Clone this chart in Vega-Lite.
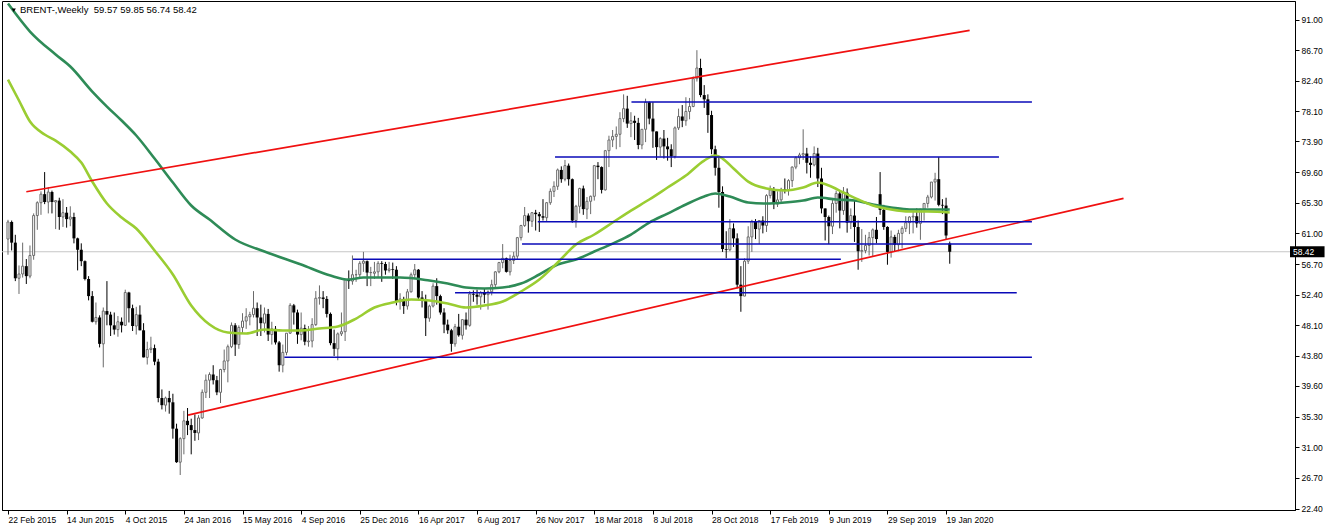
{
"$schema":"https://vega.github.io/schema/vega-lite/v6.json",
"width":1293,"height":509,
"autosize":{"type":"none"},
"padding":{"left":2,"top":1,"right":37,"bottom":20},
"background":"white",
"config":{"view":{"stroke":"#000","strokeWidth":1},"font":"Liberation Sans","axis":{"grid":false}},
"datasets":{
"candles":[
{"d":"2015-02-22","o":60.2,"h":62.9,"l":58.0,"c":62.6},
{"d":"2015-03-01","o":62.6,"h":62.8,"l":58.6,"c":59.7},
{"d":"2015-03-08","o":59.7,"h":60.8,"l":54.3,"c":54.7},
{"d":"2015-03-15","o":54.7,"h":56.5,"l":52.5,"c":55.3},
{"d":"2015-03-22","o":55.3,"h":59.7,"l":54.8,"c":56.4},
{"d":"2015-03-29","o":56.4,"h":57.4,"l":53.9,"c":55.0},
{"d":"2015-04-05","o":55.0,"h":59.3,"l":54.7,"c":57.9},
{"d":"2015-04-12","o":57.9,"h":63.8,"l":57.3,"c":63.5},
{"d":"2015-04-19","o":63.5,"h":65.5,"l":61.5,"c":65.3},
{"d":"2015-04-26","o":65.3,"h":66.9,"l":63.6,"c":66.5},
{"d":"2015-05-03","o":66.5,"h":69.6,"l":65.1,"c":65.4},
{"d":"2015-05-10","o":65.4,"h":67.5,"l":63.8,"c":66.8},
{"d":"2015-05-17","o":66.8,"h":67.0,"l":63.8,"c":65.4},
{"d":"2015-05-24","o":65.4,"h":65.6,"l":61.6,"c":65.6},
{"d":"2015-05-31","o":65.6,"h":66.0,"l":61.5,"c":63.3},
{"d":"2015-06-07","o":63.3,"h":65.8,"l":61.9,"c":63.9},
{"d":"2015-06-14","o":63.9,"h":64.7,"l":61.8,"c":63.0},
{"d":"2015-06-21","o":63.0,"h":64.8,"l":62.0,"c":63.3},
{"d":"2015-06-28","o":63.3,"h":63.9,"l":59.6,"c":60.3},
{"d":"2015-07-05","o":60.3,"h":60.4,"l":55.8,"c":58.7},
{"d":"2015-07-12","o":58.7,"h":59.6,"l":56.4,"c":57.1},
{"d":"2015-07-19","o":57.1,"h":57.2,"l":54.4,"c":54.6},
{"d":"2015-07-26","o":54.6,"h":55.0,"l":51.6,"c":52.2},
{"d":"2015-08-02","o":52.2,"h":52.9,"l":48.5,"c":48.6},
{"d":"2015-08-09","o":48.6,"h":51.3,"l":48.2,"c":49.2},
{"d":"2015-08-16","o":49.2,"h":49.5,"l":45.0,"c":45.5},
{"d":"2015-08-23","o":45.5,"h":50.6,"l":42.2,"c":50.1},
{"d":"2015-08-30","o":50.1,"h":54.3,"l":48.1,"c":49.6},
{"d":"2015-09-06","o":49.6,"h":50.0,"l":46.6,"c":48.1},
{"d":"2015-09-13","o":48.1,"h":49.9,"l":46.8,"c":47.5},
{"d":"2015-09-20","o":47.5,"h":49.4,"l":46.5,"c":48.6},
{"d":"2015-09-27","o":48.6,"h":49.2,"l":47.1,"c":48.1},
{"d":"2015-10-04","o":48.1,"h":53.1,"l":48.0,"c":52.7},
{"d":"2015-10-11","o":52.7,"h":52.8,"l":48.5,"c":50.5},
{"d":"2015-10-18","o":50.5,"h":51.0,"l":47.3,"c":48.0},
{"d":"2015-10-25","o":48.0,"h":50.7,"l":46.8,"c":49.6},
{"d":"2015-11-01","o":49.6,"h":50.9,"l":47.4,"c":47.4},
{"d":"2015-11-08","o":47.4,"h":48.4,"l":43.6,"c":43.6},
{"d":"2015-11-15","o":43.6,"h":45.8,"l":42.6,"c":44.7},
{"d":"2015-11-22","o":44.7,"h":46.5,"l":44.2,"c":44.9},
{"d":"2015-11-29","o":44.9,"h":45.4,"l":42.5,"c":43.0},
{"d":"2015-12-06","o":43.0,"h":43.4,"l":37.3,"c":37.9},
{"d":"2015-12-13","o":37.9,"h":39.1,"l":36.3,"c":36.9},
{"d":"2015-12-20","o":36.9,"h":38.1,"l":36.0,"c":37.9},
{"d":"2015-12-27","o":37.9,"h":38.9,"l":35.7,"c":37.3},
{"d":"2016-01-03","o":37.3,"h":38.5,"l":32.2,"c":33.6},
{"d":"2016-01-10","o":33.6,"h":34.3,"l":28.8,"c":28.9},
{"d":"2016-01-17","o":28.9,"h":32.4,"l":27.1,"c":32.2},
{"d":"2016-01-24","o":32.2,"h":36.1,"l":30.0,"c":34.7},
{"d":"2016-01-31","o":34.7,"h":36.5,"l":32.7,"c":34.1},
{"d":"2016-02-07","o":34.1,"h":35.0,"l":30.0,"c":33.4},
{"d":"2016-02-14","o":33.4,"h":35.6,"l":31.9,"c":33.0},
{"d":"2016-02-21","o":33.0,"h":35.5,"l":32.0,"c":35.1},
{"d":"2016-02-28","o":35.1,"h":39.1,"l":35.0,"c":38.7},
{"d":"2016-03-06","o":38.7,"h":41.2,"l":37.9,"c":40.4},
{"d":"2016-03-13","o":40.4,"h":41.5,"l":37.9,"c":41.2},
{"d":"2016-03-20","o":41.2,"h":42.5,"l":39.8,"c":40.4},
{"d":"2016-03-27","o":40.4,"h":41.0,"l":38.3,"c":38.7},
{"d":"2016-04-03","o":38.7,"h":42.0,"l":37.2,"c":41.9},
{"d":"2016-04-10","o":41.9,"h":44.7,"l":41.5,"c":43.1},
{"d":"2016-04-17","o":43.1,"h":45.4,"l":40.1,"c":45.1},
{"d":"2016-04-24","o":45.1,"h":48.5,"l":44.9,"c":48.1},
{"d":"2016-05-01","o":48.1,"h":48.4,"l":43.8,"c":45.4},
{"d":"2016-05-08","o":45.4,"h":48.1,"l":44.8,"c":47.8},
{"d":"2016-05-15","o":47.8,"h":49.8,"l":47.0,"c":48.7},
{"d":"2016-05-22","o":48.7,"h":50.5,"l":47.6,"c":49.3},
{"d":"2016-05-29","o":49.3,"h":50.0,"l":48.1,"c":49.6},
{"d":"2016-06-05","o":49.6,"h":52.9,"l":49.2,"c":50.5},
{"d":"2016-06-12","o":50.5,"h":51.3,"l":46.6,"c":49.2},
{"d":"2016-06-19","o":49.2,"h":51.0,"l":46.6,"c":48.4},
{"d":"2016-06-26","o":48.4,"h":50.6,"l":47.1,"c":49.7},
{"d":"2016-07-03","o":49.7,"h":50.4,"l":45.9,"c":46.8},
{"d":"2016-07-10","o":46.8,"h":48.6,"l":45.4,"c":47.6},
{"d":"2016-07-17","o":47.6,"h":48.0,"l":45.4,"c":45.7},
{"d":"2016-07-24","o":45.7,"h":45.9,"l":41.6,"c":42.5},
{"d":"2016-07-31","o":42.5,"h":45.4,"l":41.5,"c":44.3},
{"d":"2016-08-07","o":44.3,"h":47.0,"l":43.9,"c":47.0},
{"d":"2016-08-14","o":47.0,"h":51.2,"l":46.9,"c":50.9},
{"d":"2016-08-21","o":50.9,"h":51.1,"l":48.2,"c":49.9},
{"d":"2016-08-28","o":49.9,"h":50.3,"l":45.5,"c":46.8},
{"d":"2016-09-04","o":46.8,"h":49.9,"l":46.0,"c":47.7},
{"d":"2016-09-11","o":47.7,"h":48.2,"l":45.3,"c":45.8},
{"d":"2016-09-18","o":45.8,"h":48.0,"l":45.1,"c":45.9},
{"d":"2016-09-25","o":45.9,"h":49.1,"l":45.0,"c":48.2},
{"d":"2016-10-02","o":48.2,"h":52.9,"l":48.0,"c":51.9},
{"d":"2016-10-09","o":51.9,"h":53.7,"l":51.0,"c":52.0},
{"d":"2016-10-16","o":52.0,"h":52.9,"l":50.5,"c":51.8},
{"d":"2016-10-23","o":51.8,"h":52.2,"l":49.2,"c":49.7},
{"d":"2016-10-30","o":49.7,"h":49.9,"l":45.3,"c":45.6},
{"d":"2016-11-06","o":45.6,"h":47.5,"l":43.8,"c":44.8},
{"d":"2016-11-13","o":44.8,"h":47.1,"l":43.2,"c":46.9},
{"d":"2016-11-20","o":46.9,"h":49.9,"l":46.6,"c":47.2},
{"d":"2016-11-27","o":47.2,"h":54.5,"l":45.9,"c":54.5},
{"d":"2016-12-04","o":54.5,"h":55.8,"l":53.2,"c":54.3},
{"d":"2016-12-11","o":54.3,"h":57.9,"l":53.8,"c":55.2},
{"d":"2016-12-18","o":55.2,"h":55.9,"l":54.2,"c":55.2},
{"d":"2016-12-25","o":55.2,"h":57.1,"l":54.6,"c":56.8},
{"d":"2017-01-01","o":56.8,"h":58.4,"l":55.6,"c":57.1},
{"d":"2017-01-08","o":57.1,"h":57.2,"l":53.6,"c":55.5},
{"d":"2017-01-15","o":55.5,"h":56.3,"l":53.6,"c":55.5},
{"d":"2017-01-22","o":55.4,"h":57.0,"l":54.6,"c":55.6},
{"d":"2017-01-29","o":55.6,"h":57.1,"l":54.8,"c":56.8},
{"d":"2017-02-05","o":56.8,"h":57.1,"l":54.2,"c":56.7},
{"d":"2017-02-12","o":56.7,"h":57.0,"l":55.2,"c":55.8},
{"d":"2017-02-19","o":55.8,"h":57.0,"l":55.5,"c":56.0},
{"d":"2017-02-26","o":56.0,"h":56.9,"l":54.6,"c":55.9},
{"d":"2017-03-05","o":55.9,"h":56.4,"l":50.9,"c":51.4},
{"d":"2017-03-12","o":51.4,"h":52.6,"l":50.3,"c":51.8},
{"d":"2017-03-19","o":51.8,"h":52.1,"l":49.7,"c":50.8},
{"d":"2017-03-26","o":50.8,"h":53.2,"l":50.3,"c":52.8},
{"d":"2017-04-02","o":52.8,"h":55.5,"l":52.7,"c":55.2},
{"d":"2017-04-09","o":55.2,"h":56.7,"l":54.7,"c":55.9},
{"d":"2017-04-16","o":55.9,"h":56.0,"l":51.6,"c":52.0},
{"d":"2017-04-23","o":52.0,"h":52.9,"l":50.6,"c":51.7},
{"d":"2017-04-30","o":51.7,"h":52.4,"l":46.6,"c":49.1},
{"d":"2017-05-07","o":49.1,"h":51.0,"l":48.6,"c":50.8},
{"d":"2017-05-14","o":50.8,"h":54.0,"l":50.6,"c":53.6},
{"d":"2017-05-21","o":53.6,"h":54.7,"l":51.0,"c":52.2},
{"d":"2017-05-28","o":52.2,"h":52.4,"l":49.6,"c":49.9},
{"d":"2017-06-04","o":49.9,"h":50.5,"l":47.0,"c":48.2},
{"d":"2017-06-11","o":48.2,"h":48.9,"l":46.9,"c":47.4},
{"d":"2017-06-18","o":47.4,"h":47.6,"l":44.4,"c":45.5},
{"d":"2017-06-25","o":45.5,"h":48.3,"l":45.1,"c":47.9},
{"d":"2017-07-02","o":47.9,"h":49.7,"l":46.5,"c":46.7},
{"d":"2017-07-09","o":46.7,"h":48.9,"l":46.1,"c":48.9},
{"d":"2017-07-16","o":48.9,"h":49.9,"l":47.5,"c":48.1},
{"d":"2017-07-23","o":48.1,"h":52.9,"l":47.9,"c":52.5},
{"d":"2017-07-30","o":52.5,"h":53.0,"l":51.4,"c":52.4},
{"d":"2017-08-06","o":52.4,"h":53.1,"l":51.0,"c":52.1},
{"d":"2017-08-13","o":52.1,"h":52.9,"l":50.3,"c":52.7},
{"d":"2017-08-20","o":52.7,"h":53.2,"l":51.2,"c":52.4},
{"d":"2017-08-27","o":52.4,"h":53.0,"l":50.3,"c":52.8},
{"d":"2017-09-03","o":52.8,"h":54.5,"l":52.3,"c":53.8},
{"d":"2017-09-10","o":53.8,"h":55.7,"l":53.2,"c":55.6},
{"d":"2017-09-17","o":55.6,"h":57.0,"l":55.4,"c":56.9},
{"d":"2017-09-24","o":56.9,"h":59.5,"l":56.1,"c":57.5},
{"d":"2017-10-01","o":57.5,"h":57.6,"l":55.5,"c":55.6},
{"d":"2017-10-08","o":55.6,"h":58.0,"l":55.1,"c":57.2},
{"d":"2017-10-15","o":57.2,"h":58.4,"l":56.7,"c":57.8},
{"d":"2017-10-22","o":57.8,"h":60.5,"l":57.3,"c":60.4},
{"d":"2017-10-29","o":60.4,"h":62.2,"l":60.0,"c":62.1},
{"d":"2017-11-05","o":62.1,"h":64.7,"l":61.9,"c":63.5},
{"d":"2017-11-12","o":63.5,"h":63.8,"l":61.1,"c":62.7},
{"d":"2017-11-19","o":62.7,"h":64.0,"l":61.9,"c":63.9},
{"d":"2017-11-26","o":63.9,"h":64.3,"l":61.4,"c":63.7},
{"d":"2017-12-03","o":63.7,"h":64.0,"l":61.2,"c":63.4},
{"d":"2017-12-10","o":63.4,"h":65.8,"l":62.8,"c":63.2},
{"d":"2017-12-17","o":63.2,"h":65.4,"l":62.6,"c":65.3},
{"d":"2017-12-24","o":65.3,"h":67.3,"l":65.0,"c":66.9},
{"d":"2017-12-31","o":66.9,"h":68.3,"l":66.1,"c":67.6},
{"d":"2018-01-07","o":67.6,"h":70.1,"l":67.1,"c":69.9},
{"d":"2018-01-14","o":69.9,"h":70.4,"l":68.1,"c":68.6},
{"d":"2018-01-21","o":68.6,"h":71.3,"l":68.3,"c":70.5},
{"d":"2018-01-28","o":70.5,"h":70.8,"l":67.7,"c":68.6},
{"d":"2018-02-04","o":68.6,"h":68.7,"l":62.5,"c":62.8},
{"d":"2018-02-11","o":62.8,"h":65.0,"l":61.8,"c":64.8},
{"d":"2018-02-18","o":64.8,"h":67.4,"l":63.8,"c":67.3},
{"d":"2018-02-25","o":67.3,"h":67.7,"l":63.6,"c":64.4},
{"d":"2018-03-04","o":64.4,"h":66.1,"l":63.0,"c":65.5},
{"d":"2018-03-11","o":65.5,"h":66.3,"l":63.7,"c":66.2},
{"d":"2018-03-18","o":66.2,"h":70.6,"l":65.6,"c":70.5},
{"d":"2018-03-25","o":70.5,"h":71.0,"l":68.6,"c":70.3},
{"d":"2018-04-01","o":70.3,"h":70.4,"l":66.6,"c":67.1},
{"d":"2018-04-08","o":67.1,"h":72.7,"l":67.0,"c":72.6},
{"d":"2018-04-15","o":72.6,"h":74.7,"l":70.3,"c":74.1},
{"d":"2018-04-22","o":74.1,"h":75.5,"l":73.1,"c":74.6},
{"d":"2018-04-29","o":74.6,"h":76.0,"l":72.8,"c":74.9},
{"d":"2018-05-06","o":74.9,"h":78.0,"l":73.1,"c":77.1},
{"d":"2018-05-13","o":77.1,"h":80.5,"l":76.6,"c":78.5},
{"d":"2018-05-20","o":78.5,"h":80.3,"l":75.8,"c":76.4},
{"d":"2018-05-27","o":76.4,"h":78.0,"l":74.5,"c":76.8},
{"d":"2018-06-03","o":76.8,"h":77.5,"l":74.1,"c":76.5},
{"d":"2018-06-10","o":76.5,"h":77.2,"l":72.8,"c":73.4},
{"d":"2018-06-17","o":73.4,"h":75.6,"l":72.8,"c":75.6},
{"d":"2018-06-24","o":75.6,"h":79.9,"l":73.8,"c":79.4},
{"d":"2018-07-01","o":79.4,"h":79.5,"l":76.3,"c":77.1},
{"d":"2018-07-08","o":77.1,"h":79.4,"l":73.0,"c":75.3},
{"d":"2018-07-15","o":75.3,"h":75.3,"l":71.3,"c":73.1},
{"d":"2018-07-22","o":73.1,"h":74.5,"l":71.8,"c":74.3},
{"d":"2018-07-29","o":74.3,"h":75.5,"l":71.5,"c":73.2},
{"d":"2018-08-05","o":73.2,"h":74.4,"l":71.2,"c":72.8},
{"d":"2018-08-12","o":72.8,"h":73.5,"l":70.3,"c":71.8},
{"d":"2018-08-19","o":71.8,"h":76.0,"l":71.5,"c":75.8},
{"d":"2018-08-26","o":75.8,"h":78.5,"l":75.5,"c":77.4},
{"d":"2018-09-02","o":77.4,"h":79.0,"l":75.9,"c":76.8},
{"d":"2018-09-09","o":76.8,"h":80.1,"l":76.1,"c":78.1},
{"d":"2018-09-16","o":78.1,"h":80.0,"l":77.0,"c":78.8},
{"d":"2018-09-23","o":78.8,"h":83.0,"l":78.7,"c":82.7},
{"d":"2018-09-30","o":82.7,"h":86.7,"l":82.3,"c":84.2},
{"d":"2018-10-07","o":84.2,"h":85.5,"l":80.1,"c":80.4},
{"d":"2018-10-14","o":80.4,"h":81.8,"l":78.6,"c":79.8},
{"d":"2018-10-21","o":79.8,"h":80.5,"l":75.1,"c":77.6},
{"d":"2018-10-28","o":77.6,"h":78.2,"l":72.1,"c":72.8},
{"d":"2018-11-04","o":72.8,"h":73.3,"l":69.1,"c":70.2},
{"d":"2018-11-11","o":70.2,"h":71.7,"l":64.6,"c":66.8},
{"d":"2018-11-18","o":66.8,"h":67.6,"l":58.4,"c":58.8},
{"d":"2018-11-25","o":58.8,"h":61.3,"l":57.5,"c":58.7},
{"d":"2018-12-02","o":58.7,"h":63.0,"l":58.5,"c":61.7},
{"d":"2018-12-09","o":61.7,"h":62.4,"l":59.1,"c":60.3},
{"d":"2018-12-16","o":60.3,"h":61.0,"l":53.3,"c":53.8},
{"d":"2018-12-23","o":53.8,"h":56.4,"l":50.0,"c":52.2},
{"d":"2018-12-30","o":52.2,"h":57.5,"l":52.2,"c":57.1},
{"d":"2019-01-06","o":57.1,"h":62.0,"l":56.7,"c":60.5},
{"d":"2019-01-13","o":60.5,"h":62.9,"l":58.4,"c":62.7},
{"d":"2019-01-20","o":62.7,"h":63.0,"l":60.2,"c":61.6},
{"d":"2019-01-27","o":61.6,"h":62.8,"l":59.5,"c":62.8},
{"d":"2019-02-03","o":62.8,"h":63.4,"l":61.0,"c":62.1},
{"d":"2019-02-10","o":62.1,"h":66.5,"l":61.2,"c":66.3},
{"d":"2019-02-17","o":66.3,"h":67.7,"l":65.9,"c":67.1},
{"d":"2019-02-24","o":67.1,"h":67.5,"l":64.4,"c":65.1},
{"d":"2019-03-03","o":65.1,"h":66.9,"l":64.7,"c":65.7},
{"d":"2019-03-10","o":65.7,"h":67.4,"l":65.2,"c":67.2},
{"d":"2019-03-17","o":67.2,"h":68.7,"l":66.6,"c":67.0},
{"d":"2019-03-24","o":67.0,"h":68.6,"l":66.3,"c":68.4},
{"d":"2019-03-31","o":68.4,"h":70.4,"l":67.5,"c":70.3},
{"d":"2019-04-07","o":70.3,"h":71.8,"l":70.0,"c":71.6},
{"d":"2019-04-14","o":71.6,"h":72.3,"l":70.7,"c":72.0},
{"d":"2019-04-21","o":72.0,"h":75.6,"l":71.3,"c":72.2},
{"d":"2019-04-28","o":72.2,"h":73.0,"l":69.4,"c":70.9},
{"d":"2019-05-05","o":70.9,"h":71.8,"l":68.8,"c":70.6},
{"d":"2019-05-12","o":70.6,"h":73.2,"l":70.4,"c":72.2},
{"d":"2019-05-19","o":72.2,"h":73.0,"l":67.5,"c":68.7},
{"d":"2019-05-26","o":68.7,"h":70.2,"l":63.8,"c":64.5},
{"d":"2019-06-02","o":64.5,"h":64.5,"l":60.0,"c":63.3},
{"d":"2019-06-09","o":63.3,"h":63.5,"l":59.5,"c":62.0},
{"d":"2019-06-16","o":62.0,"h":65.8,"l":60.9,"c":65.2},
{"d":"2019-06-23","o":65.2,"h":67.0,"l":63.9,"c":66.6},
{"d":"2019-06-30","o":66.6,"h":67.0,"l":61.7,"c":64.2},
{"d":"2019-07-07","o":64.2,"h":67.5,"l":63.6,"c":66.7},
{"d":"2019-07-14","o":66.7,"h":67.3,"l":61.1,"c":62.5},
{"d":"2019-07-21","o":62.5,"h":64.5,"l":61.6,"c":63.5},
{"d":"2019-07-28","o":63.5,"h":65.6,"l":59.8,"c":61.9},
{"d":"2019-08-04","o":61.9,"h":62.8,"l":55.9,"c":58.5},
{"d":"2019-08-11","o":58.5,"h":61.6,"l":57.0,"c":58.6},
{"d":"2019-08-18","o":58.6,"h":60.8,"l":58.2,"c":59.3},
{"d":"2019-08-25","o":59.3,"h":61.2,"l":57.9,"c":60.4},
{"d":"2019-09-01","o":60.4,"h":61.7,"l":57.7,"c":61.5},
{"d":"2019-09-08","o":61.5,"h":63.3,"l":59.6,"c":60.2},
{"d":"2019-09-15","o":66.5,"h":69.6,"l":63.6,"c":64.3},
{"d":"2019-09-22","o":64.3,"h":65.0,"l":61.5,"c":61.9},
{"d":"2019-09-29","o":61.9,"h":62.0,"l":56.6,"c":58.4},
{"d":"2019-10-06","o":58.4,"h":61.4,"l":57.6,"c":60.5},
{"d":"2019-10-13","o":60.5,"h":60.8,"l":58.4,"c":59.4},
{"d":"2019-10-20","o":59.4,"h":61.5,"l":58.5,"c":61.0},
{"d":"2019-10-27","o":61.0,"h":62.0,"l":58.9,"c":61.7},
{"d":"2019-11-03","o":61.7,"h":63.4,"l":61.2,"c":62.5},
{"d":"2019-11-10","o":62.5,"h":63.4,"l":60.9,"c":63.3},
{"d":"2019-11-17","o":63.3,"h":64.1,"l":61.0,"c":63.4},
{"d":"2019-11-24","o":63.4,"h":64.5,"l":61.8,"c":62.4},
{"d":"2019-12-01","o":62.4,"h":64.4,"l":60.1,"c":64.4},
{"d":"2019-12-08","o":64.4,"h":65.1,"l":62.8,"c":65.2},
{"d":"2019-12-15","o":65.2,"h":66.4,"l":64.6,"c":66.1},
{"d":"2019-12-22","o":66.1,"h":68.2,"l":65.9,"c":68.2},
{"d":"2019-12-29","o":68.2,"h":69.5,"l":65.6,"c":68.6},
{"d":"2020-01-05","o":68.6,"h":71.7,"l":64.8,"c":65.0},
{"d":"2020-01-12","o":65.0,"h":65.8,"l":63.7,"c":64.9},
{"d":"2020-01-19","o":64.9,"h":66.0,"l":60.2,"c":60.7},
{"d":"2020-01-26","o":59.57,"h":59.85,"l":56.74,"c":58.42}
],
"slow":[
{"d":"2015-02-22","v":93.24},{"d":"2015-04-05","v":89.32},{"d":"2015-05-24","v":86.09},{"d":"2015-06-21","v":84.41},{"d":"2015-08-02","v":80.9},{"d":"2015-08-30","v":78.79},{"d":"2015-09-27","v":76.83},{"d":"2015-10-25","v":74.73},{"d":"2015-11-29","v":71.5},{"d":"2016-01-03","v":68.13},{"d":"2016-02-07","v":64.91},{"d":"2016-03-13","v":62.94},{"d":"2016-05-01","v":60.14},{"d":"2016-06-26","v":58.45},{"d":"2016-09-04","v":56.63},{"d":"2016-10-30","v":55.08},{"d":"2016-12-04","v":54.52},{"d":"2017-01-01","v":54.8},{"d":"2017-03-12","v":54.8},{"d":"2017-05-07","v":54.38},{"d":"2017-06-11","v":53.96},{"d":"2017-07-16","v":53.4},{"d":"2017-08-20","v":53.26},{"d":"2017-09-24","v":53.4},{"d":"2017-10-29","v":53.96},{"d":"2017-12-03","v":55.23},{"d":"2018-01-07","v":56.63},{"d":"2018-02-11","v":57.33},{"d":"2018-03-18","v":58.45},{"d":"2018-04-22","v":59.57},{"d":"2018-05-27","v":60.84},{"d":"2018-07-01","v":62.52},{"d":"2018-08-05","v":63.78},{"d":"2018-09-09","v":65.05},{"d":"2018-10-14","v":66.17},{"d":"2018-11-04","v":66.59},{"d":"2018-12-02","v":66.17},{"d":"2019-01-06","v":65.33},{"d":"2019-02-10","v":65.19},{"d":"2019-03-17","v":65.33},{"d":"2019-04-21","v":65.61},{"d":"2019-05-19","v":66.03},{"d":"2019-06-23","v":65.75},{"d":"2019-07-28","v":65.61},{"d":"2019-09-01","v":65.05},{"d":"2019-10-06","v":64.63},{"d":"2019-11-10","v":64.34},{"d":"2019-12-15","v":64.34},{"d":"2020-01-26","v":64.34}
],
"fast":[
{"d":"2015-02-22","v":82.58},{"d":"2015-03-15","v":79.64},{"d":"2015-04-05","v":76.69},{"d":"2015-05-03","v":74.87},{"d":"2015-05-24","v":74.02},{"d":"2015-06-21","v":72.48},{"d":"2015-07-12","v":70.94},{"d":"2015-08-02","v":68.27},{"d":"2015-08-30","v":65.19},{"d":"2015-09-27","v":63.22},{"d":"2015-10-25","v":61.68},{"d":"2015-11-29","v":58.59},{"d":"2016-01-03","v":55.23},{"d":"2016-02-07","v":50.88},{"d":"2016-03-13","v":48.21},{"d":"2016-04-17","v":47.09},{"d":"2016-05-22","v":46.95},{"d":"2016-06-26","v":47.51},{"d":"2016-07-31","v":47.37},{"d":"2016-09-04","v":47.37},{"d":"2016-10-09","v":47.65},{"d":"2016-11-13","v":47.93},{"d":"2016-12-18","v":49.05},{"d":"2017-01-22","v":50.6},{"d":"2017-02-26","v":51.3},{"d":"2017-04-02","v":51.72},{"d":"2017-05-07","v":51.58},{"d":"2017-06-11","v":51.16},{"d":"2017-07-16","v":50.6},{"d":"2017-08-20","v":50.88},{"d":"2017-09-24","v":51.44},{"d":"2017-10-29","v":52.84},{"d":"2017-12-03","v":54.52},{"d":"2018-01-07","v":56.91},{"d":"2018-02-11","v":59.43},{"d":"2018-03-18","v":60.84},{"d":"2018-04-22","v":62.52},{"d":"2018-05-27","v":64.2},{"d":"2018-07-01","v":65.75},{"d":"2018-08-05","v":67.43},{"d":"2018-09-09","v":69.11},{"d":"2018-10-14","v":71.22},{"d":"2018-11-04","v":71.92},{"d":"2018-11-18","v":71.5},{"d":"2018-12-09","v":70.1},{"d":"2019-01-06","v":68.27},{"d":"2019-02-10","v":67.29},{"d":"2019-03-17","v":67.01},{"d":"2019-04-21","v":67.43},{"d":"2019-05-19","v":68.13},{"d":"2019-06-09","v":67.71},{"d":"2019-07-07","v":66.73},{"d":"2019-08-04","v":65.75},{"d":"2019-09-01","v":64.91},{"d":"2019-10-06","v":64.34},{"d":"2019-11-10","v":64.06},{"d":"2019-12-15","v":64.06},{"d":"2020-01-26","v":63.92}
],
"red":[
{"d1":"2015-03-29","p1":66.84,"d2":"2020-03-04","p2":89.47},
{"d1":"2016-02-01","p1":35.51,"d2":"2020-12-23","p2":65.92}
],
"blue":[
{"d1":"2018-05-28","d2":"2020-07-01","p":79.43},
{"d1":"2018-01-02","d2":"2020-04-29","p":71.71},
{"d1":"2017-11-30","d2":"2020-07-01","p":62.63},
{"d1":"2017-10-31","d2":"2020-07-01","p":59.5},
{"d1":"2016-12-12","d2":"2019-07-02","p":57.36},
{"d1":"2017-06-25","d2":"2020-06-02","p":52.67},
{"d1":"2016-08-03","d2":"2020-07-01","p":43.61}
],
"title":[{"t":"BRENT-,Weekly\u00a0 59.57 59.85 56.74 58.42"}],
"last":[{"p":58.42,"t":"58.42"}]
},
"layer":[
{"data":{"name":"last"},"mark":{"type":"rule","color":"#c6c6c6","strokeWidth":1},
 "encoding":{"y":{"field":"p","type":"quantitative","title":null,"scale":{"domain":[22.19,93.6],"nice":false,"zero":false},
  "axis":{"orient":"right","values":[22.4,26.7,31,35.3,39.6,43.8,48.1,52.4,56.7,61,65.3,69.6,73.9,78.1,82.4,86.7,91],"tickCount":40,"format":".2f","labelFont":"Liberation Sans","labelFontSize":8.5,"labelColor":"#000","tickColor":"#000","tickSize":4,"labelPadding":2,"domainColor":"#000","grid":false,"labelOverlap":false,"labelFlush":false,"title":null}}}},
{"data":{"name":"candles"},"transform":[{"filter":"datum.c >= datum.o"}],"mark":{"type":"rule","color":"#6a6a6a","strokeWidth":1},
 "encoding":{"x":{"field":"d","type":"temporal","title":null,"scale":{"type":"utc","nice":false,"domain":[{"year":2015,"month":2,"date":20,"hours":2,"minutes":30,"utc":true},{"year":2021,"month":11,"date":6,"utc":true}]},
  "axis":{"orient":"bottom","values":[{"year":2015,"month":2,"date":22,"utc":true},{"year":2015,"month":6,"date":14,"utc":true},{"year":2015,"month":10,"date":4,"utc":true},{"year":2016,"month":1,"date":24,"utc":true},{"year":2016,"month":5,"date":15,"utc":true},{"year":2016,"month":9,"date":4,"utc":true},{"year":2016,"month":12,"date":25,"utc":true},{"year":2017,"month":4,"date":16,"utc":true},{"year":2017,"month":8,"date":6,"utc":true},{"year":2017,"month":11,"date":26,"utc":true},{"year":2018,"month":3,"date":18,"utc":true},{"year":2018,"month":7,"date":8,"utc":true},{"year":2018,"month":10,"date":28,"utc":true},{"year":2019,"month":2,"date":17,"utc":true},{"year":2019,"month":6,"date":9,"utc":true},{"year":2019,"month":9,"date":29,"utc":true},{"year":2020,"month":1,"date":19,"utc":true}],
   "tickCount":40,"format":"%-d %b %Y","labelAlign":"left","labelBaseline":"top","labelFont":"Liberation Sans","labelFontSize":8.5,"labelColor":"#000","tickColor":"#000","tickSize":4,"labelPadding":1,"domainColor":"#000","grid":false,"labelOverlap":false,"labelFlush":false,"title":null}},
  "y":{"field":"l","type":"quantitative","title":null},"y2":{"field":"h"}}},
{"data":{"name":"candles"},"transform":[{"filter":"datum.c < datum.o"}],"mark":{"type":"rule","color":"#000000","strokeWidth":1},
 "encoding":{"x":{"field":"d","type":"temporal","title":null},"y":{"field":"l","type":"quantitative","title":null},"y2":{"field":"h"}}},
{"data":{"name":"candles"},"transform":[{"filter":"datum.c >= datum.o"}],"mark":{"type":"bar","size":2,"fill":"#ffffff","stroke":"#6a6a6a","strokeWidth":1},
 "encoding":{"x":{"field":"d","type":"temporal","title":null},"y":{"field":"o","type":"quantitative","title":null},"y2":{"field":"c"}}},
{"data":{"name":"candles"},"transform":[{"filter":"datum.c < datum.o"}],"mark":{"type":"bar","size":3,"fill":"#000000"},
 "encoding":{"x":{"field":"d","type":"temporal","title":null},"y":{"field":"o","type":"quantitative","title":null},"y2":{"field":"c"}}},
{"data":{"name":"slow"},"mark":{"type":"line","color":"#2e8b57","strokeWidth":2.6,"interpolate":"monotone"},
 "encoding":{"x":{"field":"d","type":"temporal","title":null},"y":{"field":"v","type":"quantitative","title":null}}},
{"data":{"name":"fast"},"mark":{"type":"line","color":"#9acd32","strokeWidth":2.6,"interpolate":"monotone"},
 "encoding":{"x":{"field":"d","type":"temporal","title":null},"y":{"field":"v","type":"quantitative","title":null}}},
{"data":{"name":"red"},"mark":{"type":"rule","color":"#f01010","strokeWidth":1.7},
 "encoding":{"x":{"field":"d1","type":"temporal","title":null},"x2":{"field":"d2"},"y":{"field":"p1","type":"quantitative","title":null},"y2":{"field":"p2"}}},
{"data":{"name":"blue"},"mark":{"type":"rule","color":"#0a0ab8","strokeWidth":1.6},
 "encoding":{"x":{"field":"d1","type":"temporal","title":null},"x2":{"field":"d2"},"y":{"field":"p","type":"quantitative","title":null}}},
{"data":{"name":"title"},"mark":{"type":"text","align":"left","baseline":"middle","font":"Liberation Sans","fontSize":9.5,"color":"#000"},
 "encoding":{"x":{"datum":{"year":2015,"month":3,"date":17,"utc":true},"type":"temporal","title":null},"y":{"datum":92.33,"type":"quantitative","title":null},"text":{"field":"t"}}},
{"data":{"name":"title"},"mark":{"type":"point","shape":"triangle-down","filled":true,"color":"#000","size":18,"opacity":1},
 "encoding":{"x":{"datum":{"year":2015,"month":3,"date":5,"utc":true},"type":"temporal","title":null},"y":{"datum":92.3,"type":"quantitative","title":null}}},
{"data":{"name":"last"},"mark":{"type":"rect","color":"#000"},
 "encoding":{"x":{"datum":{"year":2021,"month":11,"date":6,"utc":true},"type":"temporal","title":null},"x2":{"datum":{"year":2022,"month":1,"date":11,"utc":true}},"y":{"datum":59.2,"type":"quantitative","title":null},"y2":{"datum":57.64}}},
{"data":{"name":"last"},"mark":{"type":"text","align":"left","baseline":"middle","dx":3,"font":"Liberation Sans","fontSize":8.5,"color":"#ffffff"},
 "encoding":{"x":{"datum":{"year":2021,"month":11,"date":6,"utc":true},"type":"temporal","title":null},"y":{"field":"p","type":"quantitative","title":null},"text":{"field":"t"}}}
]
}
